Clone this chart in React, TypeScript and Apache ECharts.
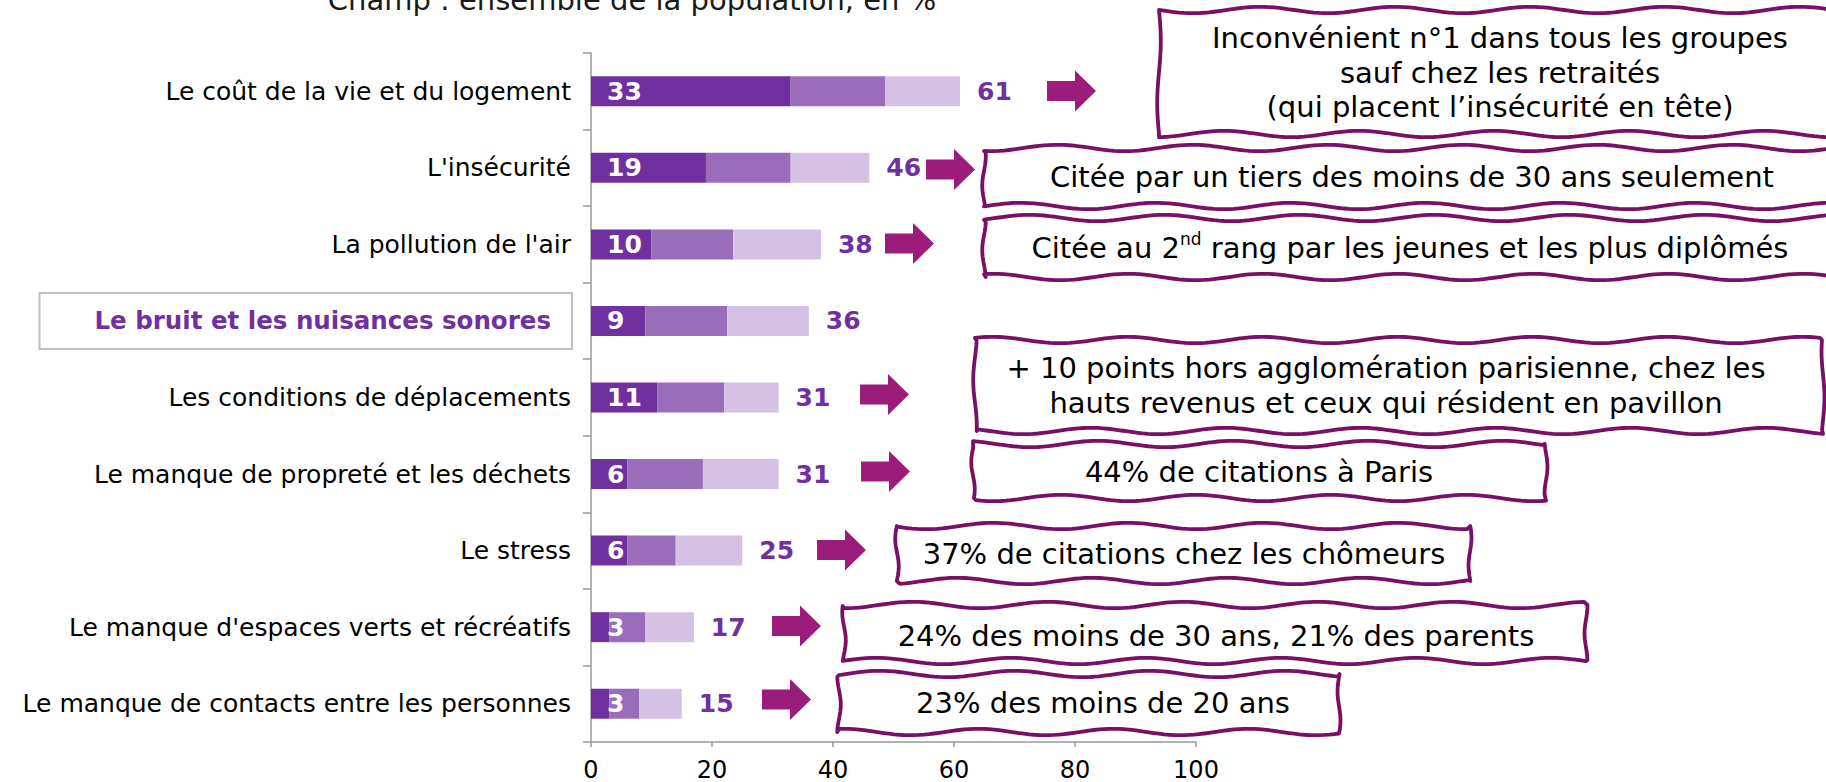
import React, { useEffect, useRef } from "react";
import * as echarts from "echarts";

const categories = [
  "Le coût de la vie et du logement",
  "L'insécurité",
  "La pollution de l'air",
  "Le bruit et les nuisances sonores",
  "Les conditions de déplacements",
  "Le manque de propreté et les déchets",
  "Le stress",
  "Le manque d'espaces verts et récréatifs",
  "Le manque de contacts entre les personnes",
];
const firstRank = [33, 19, 10, 9, 11, 6, 6, 3, 3];
const secondRank = [15.6, 14, 13.5, 13.5, 11, 12.5, 8, 6, 5];
const thirdRank = [12.4, 13, 14.5, 13.5, 9, 12.5, 11, 8, 7];
const totals = [61, 46, 38, 36, 31, 31, 25, 17, 15];
const highlighted = "Le bruit et les nuisances sonores";
const xTicks = [0, 20, 40, 60, 80, 100];
const titleText = "Champ : ensemble de la population, en %";

const notes = [
  { lines: ["Inconvénient n°1 dans tous les groupes", "sauf chez les retraités", "(qui placent l’insécurité en tête)"], box: [1159, 10, 690, 124], text: [1500, 72.5], arrow: [1047, 91] },
  { lines: ["Citée par un tiers des moins de 30 ans seulement"], box: [984, 148, 860, 58], text: [1412, 177], arrow: [926, 169.5] },
  { lines: ["{a|Citée au 2}{sup|nd}{a| rang par les jeunes et les plus diplômés}"], box: [984, 218, 860, 59], text: [1410, 248], arrow: [885, 243.5] },
  { lines: ["+ 10 points hors agglomération parisienne, chez les", "hauts revenus et ceux qui résident en pavillon"], box: [975, 340, 848, 91], text: [1386, 385.5], arrow: [860, 394.5] },
  { lines: ["44% de citations à Paris"], box: [973, 444, 573, 54], text: [1259, 472], arrow: [861, 471.5] },
  { lines: ["37% de citations chez les chômeurs"], box: [897, 526, 573, 55], text: [1184, 554], arrow: [817, 550] },
  { lines: ["24% des moins de 30 ans, 21% des parents"], box: [844, 605, 742, 56], text: [1216, 636], arrow: [772, 626] },
  { lines: ["23% des moins de 20 ans"], box: [839, 674, 500, 58], text: [1103, 703], arrow: [762, 699.5] },
];

const FONT = "'DejaVu Sans', Verdana, sans-serif";
const DARK = "#7030A0";
const MID = "#9A6DBB";
const LIGHT = "#D5C1E3";
const ARROW = "#9C1C7C";
const BOX = "#7A0F66";
const NOTE_SIZE = 29;

function wavy(x: number, y: number, w: number, h: number, ph: number) {
  const pts: number[][] = [];
  const amp = 3.2;
  const per = 135;
  const TAU = Math.PI * 2;
  for (let t = 0; t <= w; t += 5) pts.push([x + t, y + amp * Math.sin((t / per) * TAU + ph)]);
  for (let t = 0; t <= h; t += 5) pts.push([x + w + 1.5 * Math.sin((t / h) * TAU + ph), y + t]);
  for (let t = w; t >= 0; t -= 5) pts.push([x + t, y + h + amp * Math.sin((t / per) * TAU + ph + 1.7)]);
  for (let t = h; t >= 0; t -= 5) pts.push([x + 1.8 * Math.sin((t / h) * TAU + ph * 0.5), y + t]);
  return pts;
}

function arrowPts(x0: number, cy: number) {
  return [
    [x0, cy - 10],
    [x0 + 28, cy - 10],
    [x0 + 28, cy - 20.5],
    [x0 + 49, cy],
    [x0 + 28, cy + 20.5],
    [x0 + 28, cy + 10],
    [x0, cy + 10],
  ];
}

export default function App() {
  const ref = useRef<HTMLDivElement>(null);
  useEffect(() => {
    if (!ref.current) return;
    const chart = echarts.init(ref.current, undefined, { renderer: "svg" });

    const graphics: any[] = [];
    graphics.push({
      type: "text",
      x: 632,
      y: 0,
      style: { text: titleText, font: `29px ${FONT}`, fill: "#1a1a1a", align: "center", verticalAlign: "middle" },
    });
    notes.forEach((n, i) => {
      const [bx, by, bw, bh] = n.box;
      graphics.push({
        type: "polygon",
        shape: { points: wavy(bx, by, bw, bh, i * 1.3) },
        style: { fill: "#fff", stroke: BOX, lineWidth: 3.8, lineJoin: "round" },
        z: 10,
      });
      graphics.push({
        type: "polygon",
        shape: { points: arrowPts(n.arrow[0], n.arrow[1]) },
        style: { fill: ARROW },
        z: 10,
      });
      graphics.push({
        type: "text",
        x: n.text[0],
        y: n.text[1],
        z: 11,
        style: {
          text: n.lines.join("\n"),
          fontSize: NOTE_SIZE,
          fontFamily: FONT,
          fill: "#000",
          align: "center",
          verticalAlign: "middle",
          lineHeight: 34.5,
          rich: {
            a: { fontSize: NOTE_SIZE, fontFamily: FONT, fill: "#000", lineHeight: 36 },
            sup: { fontSize: 17, fontFamily: FONT, fill: "#000", verticalAlign: "top", lineHeight: 36, padding: [0, 0, 14, 0] },
          },
        },
      });
    });

    chart.setOption({
      animation: false,
      textStyle: { fontFamily: FONT },
      grid: { left: 591, right: 630, top: 53, bottom: 40, containLabel: false },
      xAxis: {
        type: "value",
        min: xTicks[0],
        max: xTicks[xTicks.length - 1],
        interval: 20,
        splitLine: { show: false },
        axisLine: { show: true, lineStyle: { color: "#999", width: 1.5 } },
        axisTick: { show: true, length: 5, lineStyle: { color: "#999", width: 1.5 } },
        axisLabel: { fontSize: 24, color: "#000", margin: 16, fontFamily: FONT },
      },
      yAxis: {
        type: "category",
        data: categories,
        inverse: true,
        axisLine: { show: true, lineStyle: { color: "#999", width: 1.5 } },
        axisTick: { show: true, length: 8, lineStyle: { color: "#999", width: 1.5 } },
        axisLabel: {
          fontSize: 25,
          color: "#000",
          margin: 20,
          fontFamily: FONT,
          formatter: (v: string) => (v === highlighted ? `{hl|${v}}` : v),
          rich: {
            hl: {
              fontSize: 24.5,
              fontWeight: "bold",
              color: DARK,
              fontFamily: FONT,
              borderColor: "#BFBFBF",
              borderWidth: 2,
              backgroundColor: "#fff",
              lineHeight: 26,
              padding: [14.5, 20, 14.5, 54],
            },
          },
        },
      },
      series: [
        {
          type: "bar",
          stack: "a",
          data: firstRank,
          barWidth: 30,
          itemStyle: { color: DARK },
          label: {
            show: true,
            position: [16, "50%"],
            align: "left",
            verticalAlign: "middle",
            color: "#fff",
            fontWeight: "bold",
            fontSize: 25,
            fontFamily: FONT,
            formatter: (p: any) => String(Math.round(p.value)),
          },
        },
        { type: "bar", stack: "a", data: secondRank, barWidth: 30, itemStyle: { color: MID } },
        {
          type: "bar",
          stack: "a",
          data: thirdRank,
          barWidth: 30,
          itemStyle: { color: LIGHT },
          label: {
            show: true,
            position: "right",
            distance: 17,
            color: DARK,
            fontWeight: "bold",
            fontSize: 25,
            fontFamily: FONT,
            formatter: (p: any) => String(totals[p.dataIndex]),
          },
        },
      ],
      graphic: graphics,
    });
    return () => chart.dispose();
  }, []);
  return <div ref={ref} style={{ position: "fixed", left: 0, top: 0, width: 1826, height: 782, background: "#fff" }} />;
}
